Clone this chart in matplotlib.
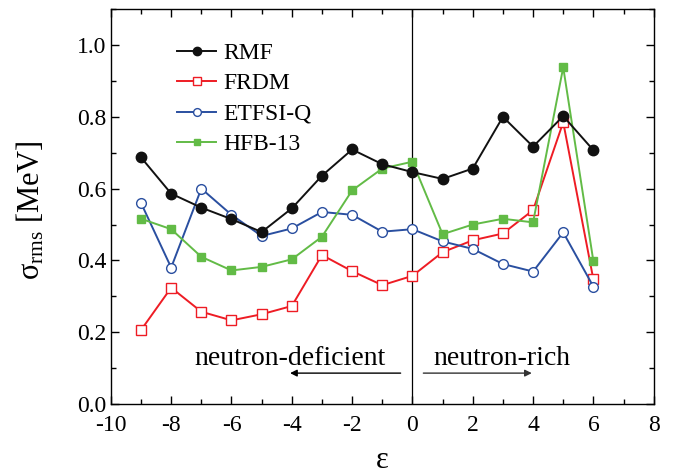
import matplotlib
matplotlib.use("Agg")
import matplotlib.pyplot as plt
from matplotlib.ticker import MultipleLocator

eps = [-9, -8, -7, -6, -5, -4, -3, -2, -1, 0, 1, 2, 3, 4, 5, 6]
rmf = [0.687, 0.586, 0.547, 0.515, 0.479, 0.545, 0.636, 0.709, 0.668, 0.646,
       0.627, 0.656, 0.800, 0.717, 0.802, 0.707]
frdm = [0.206, 0.324, 0.257, 0.233, 0.250, 0.273, 0.415, 0.370, 0.331, 0.357,
        0.423, 0.456, 0.475, 0.540, 0.785, 0.347]
etfsi = [0.560, 0.380, 0.600, 0.527, 0.468, 0.489, 0.535, 0.527, 0.480, 0.487,
         0.453, 0.432, 0.390, 0.369, 0.478, 0.327]
hfb = [0.516, 0.487, 0.410, 0.372, 0.382, 0.403, 0.466, 0.595, 0.656, 0.675,
       0.473, 0.500, 0.516, 0.506, 0.938, 0.398]

plt.rcParams['font.family'] = ['Liberation Serif', 'DejaVu Serif']
plt.rcParams['mathtext.fontset'] = 'custom'
plt.rcParams['mathtext.rm'] = 'Liberation Serif'
plt.rcParams['mathtext.it'] = 'Liberation Serif:italic'
plt.rcParams['axes.unicode_minus'] = False

fig = plt.figure(figsize=(6.76, 4.74), dpi=100)
ax = fig.add_axes([0.164, 0.1477, 0.803, 0.833])

ax.axvline(0, color='black', lw=0.9, zorder=1)

ax.plot(eps, frdm, '-s', color='#ee1c24', mfc='white', mec='#ee1c24', ms=6.5, lw=1.4,
        mew=1.0, label='FRDM', zorder=3)
ax.plot(eps, etfsi, '-o', color='#2a4fa0', mfc='white', mec='#2a4fa0', ms=7, lw=1.4,
        mew=1.0, label='ETFSI-Q', zorder=4)
ax.plot(eps, hfb, '-s', color='#62bb46', mfc='#62bb46', mec='#62bb46', ms=6, lw=1.4,
        label='HFB-13', zorder=5)
ax.plot(eps, rmf, '-o', color='#111111', mfc='#111111', ms=7.5, lw=1.4,
        label='RMF', zorder=6)

ax.set_xlim(-10, 8)
ax.set_ylim(0, 1.1)
ax.xaxis.set_major_locator(MultipleLocator(2))
ax.xaxis.set_minor_locator(MultipleLocator(1))
ax.yaxis.set_minor_locator(MultipleLocator(0.1))
ax.set_yticks([0.0, 0.2, 0.4, 0.6, 0.8, 1.0])
ax.set_yticklabels(['0.0', '0.2', '0.4', '0.6', '0.8', '1.0'])
ax.tick_params(which='both', direction='in', top=True, right=True, labelsize=17, width=1.0)
ax.tick_params(which='major', length=6)
ax.tick_params(which='minor', length=3.5)
ax.tick_params(axis='x', which='major', pad=8)
for s in ax.spines.values():
    s.set_linewidth(1.0)

ax.set_xlabel('ε', fontsize=22, labelpad=7)
ax.set_ylabel('σ$_{\\mathrm{rms}}$ [MeV]', fontsize=22)
ax.yaxis.set_label_coords(-0.118, 0.49)

handles, labels = ax.get_legend_handles_labels()
order = [3, 0, 1, 2]
ax.legend([handles[i] for i in order], [labels[i] for i in order], loc='upper left',
          bbox_to_anchor=(0.083, 0.97), frameon=False, fontsize=17, markerscale=0.8,
          handlelength=1.65, handletextpad=0.3, labelspacing=0.38)

ax.text(-4.05, 0.128, 'neutron-deficient', fontsize=20, ha='center', va='center')
ax.text(2.96, 0.128, 'neutron-rich', fontsize=20, ha='center', va='center')
ax.annotate('', xy=(-4.15, 0.086), xytext=(-0.3, 0.086),
            arrowprops=dict(arrowstyle='-|>', color='black', lw=1.0, mutation_scale=10))
ax.annotate('', xy=(4.05, 0.086), xytext=(0.27, 0.086),
            arrowprops=dict(arrowstyle='-|>', color='#333333', lw=1.0, mutation_scale=10))

fig.savefig('out.png', dpi=100)
